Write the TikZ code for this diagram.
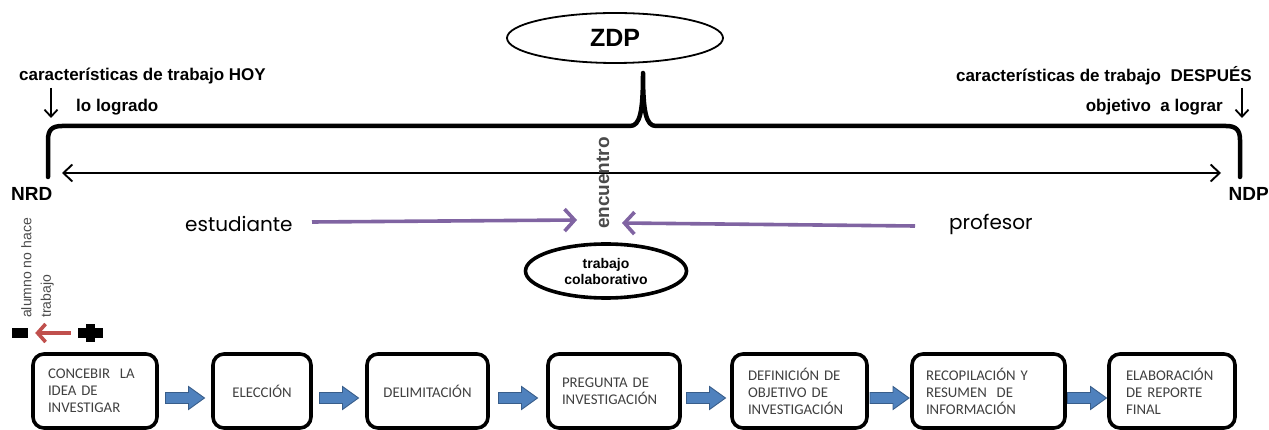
\documentclass[tikz,border=0pt]{standalone}
\usepackage{fontspec}
\setmainfont{Liberation Sans}
\newfontfamily\roundfont{Poppins}
\newfontfamily\boxfont{Carlito}
\usetikzlibrary{arrows.meta,shapes.geometric,calc}

\definecolor{violetline}{HTML}{8064A2}
\definecolor{redline}{HTML}{C0504D}
\definecolor{arrowblue}{HTML}{4F81BD}
\definecolor{arrowedge}{HTML}{385D8A}
\definecolor{boxtext}{HTML}{404040}
\definecolor{graytext}{HTML}{4A4A4A}

\tikzset{
  x=1pt, y=-1pt,
  boldlabel/.style={font=\bfseries\fontsize{17}{20}\selectfont, inner sep=0pt},
  pole/.style={font=\bfseries\fontsize{19}{22}\selectfont, inner sep=0pt},
  actor/.style={font=\roundfont\fontsize{20}{24}\selectfont, inner sep=0pt},
  downarrow/.style={line width=1.8pt, -{Straight Barb[length=7pt,width=13pt,line width=1.8pt]}},
  meet/.style={line width=3.6pt, violetline, -{Straight Barb[length=10pt,width=22pt,line width=3.6pt]}},
  stage/.style={draw, line width=3.6pt, rounded corners=11pt, minimum height=74pt,
    font=\boxfont\fontsize{14.8}{17}\selectfont, text=boxtext, inner sep=0pt},
  blockarrow/.pic={
    \filldraw[fill=arrowblue, draw=arrowedge, line width=0.9pt]
      (-19.5,-5.5) -- (3.5,-5.5) -- (3.5,-11.5) -- (19.5,0) -- (3.5,11.5)
      -- (3.5,5.5) -- (-19.5,5.5) -- cycle;
  }
}

\begin{document}
\begin{tikzpicture}
\useasboundingbox (0,0) rectangle (1269,430);

% zone of proximal development
\node[draw, ellipse, line width=1.8pt, minimum width=216pt, minimum height=50pt,
      font=\bfseries\fontsize{25}{28}\selectfont] (zdp) at (615,38) {ZDP};

% brace spanning from NRD to NDP
\coordinate (braceL) at (48,177);
\coordinate (braceR) at (1240,177);
\coordinate (peak) at (643,73);
\draw[line width=4.5pt, line cap=round, line join=round]
  (braceL) -- (48,140) .. controls (48,130) and (52,126) .. (62,126)
  -- (630,126) .. controls (640,126) and (643,112) .. (peak)
  .. controls (643,112) and (646,126) .. (656,126)
  -- (1226,126) .. controls (1236,126) and (1240,130) .. (1240,140) -- (braceR);

% level labels
\node[pole, anchor=west] (nrd) at (11,194) {NRD};
\node[pole, anchor=east] (ndp) at (1269,194) {NDP};

\node[boldlabel, anchor=west] (hoy) at (19,76) {características de trabajo HOY};
\node[boldlabel, anchor=west] (logrado) at (76,107) {lo logrado};
\node[boldlabel, anchor=east] (despues) at (1252,76) {características de trabajo \ DESPUÉS};
\node[boldlabel, anchor=east] (lograr) at (1223,107) {objetivo \ a lograr};

\coordinate (hoyTop) at (51,88);
\coordinate (hoyEnd) at (51,118);
\coordinate (desTop) at (1242,88);
\coordinate (desEnd) at (1242,118);
\draw[downarrow] (hoyTop) -- (hoyEnd);
\draw[downarrow] (desTop) -- (desEnd);

% span between the two levels
\coordinate (spanL) at (62,173);
\coordinate (spanR) at (1221,173);
\draw[line width=1.9pt, {Straight Barb[length=9pt,width=17pt,line width=1.9pt]}-{Straight Barb[length=9pt,width=17pt,line width=1.9pt]}]
  (spanL) -- (spanR);

% meeting point
\node[rotate=90, font=\bfseries\fontsize{19}{22}\selectfont, text=graytext, inner sep=0pt]
  (encuentro) at (603,183) {encuentro};

\node[actor, anchor=west] (est) at (185,224) {estudiante};
\node[actor, anchor=west] (prof) at (949,224) {profesor};
\coordinate (estStart) at (312,222);
\coordinate (estTip) at (577,220);
\coordinate (profStart) at (915,226);
\coordinate (profTip) at (622,223);
\draw[meet] (estStart) -- (estTip);
\draw[meet] (profStart) -- (profTip);

\node[draw, ellipse, line width=3.6pt, minimum width=161pt, minimum height=54pt,
      align=center, font=\bfseries\fontsize{14}{16}\selectfont, inner sep=0pt]
  (colab) at (606,271) {trabajo\\colaborativo};

% student effort scale
\node[rotate=90, anchor=south west, align=left, inner sep=0pt, text=graytext,
      font=\fontsize{14}{19.5}\selectfont] (alumno) at (54,318) {alumno no hace\\trabajo};
\node[fill=black, minimum width=16pt, minimum height=9pt, inner sep=0pt] (minus) at (20,333) {};
\node[minimum size=25pt, inner sep=0pt] (plus) at (90.5,333) {};
\fill (plus.center) ++(-12.5,-4.5) rectangle ++(25,9);
\fill (plus.center) ++(-4.5,-9) rectangle ++(9,18);
\draw[line width=3.6pt, redline, -{Straight Barb[length=8pt,width=18pt,line width=3.6pt]}]
  ($(plus.west)+(-7,0)$) -- ($(minus.east)+(7,0)$);

% research stages
\node[stage, minimum width=124pt, text width=94pt, align=left] (s1) at (95,391)
  {CONCEBIR \ LA\\IDEA DE\\INVESTIGAR};
\node[stage, minimum width=98pt, text width=80pt, align=center] (s2) at (262,391) {ELECCIÓN};
\node[stage, minimum width=121pt, text width=100pt, align=center] (s3) at (427.5,391) {DELIMITACIÓN};
\node[stage, minimum width=132pt, text width=104pt, align=left] (s4) at (614,391)
  {PREGUNTA DE\\INVESTIGACIÓN\\[4pt]};
\node[stage, minimum width=135pt, text width=103pt, align=left] (s5) at (799.5,391)
  {DEFINICIÓN DE\\OBJETIVO DE\\INVESTIGACIÓN};
\node[stage, minimum width=153pt, text width=125pt, align=left] (s6) at (988.5,391)
  {RECOPILACIÓN Y\\RESUMEN \ DE\\INFORMACIÓN};
\node[stage, minimum width=126pt, text width=92pt, align=left] (s7) at (1172,391)
  {ELABORACIÓN\\DE REPORTE\\FINAL};

\foreach \a/\b in {s1/s2,s2/s3,s3/s4,s4/s5,s5/s6,s6/s7}
  \pic at ($($(\a.east)!0.5!(\b.west)$)+(0,7)$) {blockarrow};
\end{tikzpicture}
\end{document}
